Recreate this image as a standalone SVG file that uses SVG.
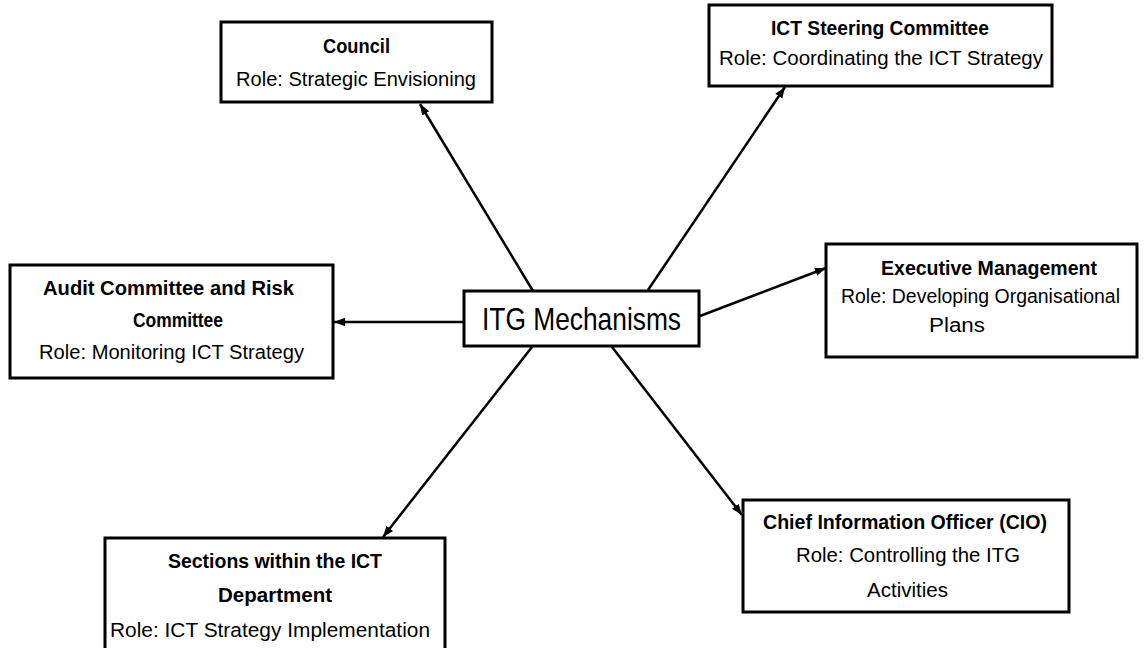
<svg xmlns="http://www.w3.org/2000/svg" width="1145" height="648" viewBox="0 0 1145 648">
<style>
  .box { fill: #ffffff; stroke: #000000; stroke-width: 3; }
  .t { font-family: "Liberation Sans", Arial, sans-serif; font-size: 20px; fill: #000000; }
  .b { font-weight: bold; }
  .c { font-family: "Liberation Sans", Arial, sans-serif; font-size: 32px; fill: #000000; }
  .arrow { fill: none; stroke: #000000; stroke-width: 2.5; marker-end: url(#ah); }
</style>
<defs>
  <marker id="ah" markerUnits="userSpaceOnUse" markerWidth="12" markerHeight="10" refX="11" refY="5" orient="auto">
    <path d="M0,0.8 L11,5 L0,9.2 Z" fill="#000000"/>
  </marker>
</defs>
<rect width="1145" height="648" fill="#ffffff"/>

<g id="connectors">
  <path class="arrow" d="M533,291 L420,104"/>
  <path class="arrow" d="M648,290 L785,87"/>
  <path class="arrow" d="M464,322 L334,322"/>
  <path class="arrow" d="M700,316 L826,268"/>
  <path class="arrow" d="M532,347 L383,537"/>
  <path class="arrow" d="M612,347 L742,515"/>
</g>

<g id="center">
  <rect class="box" x="464" y="291" width="235" height="55"/>
  <text class="c" x="581.5" y="330" text-anchor="middle" textLength="199" lengthAdjust="spacingAndGlyphs">ITG Mechanisms</text>
</g>

<g id="council">
  <rect class="box" x="221" y="22" width="271" height="80"/>
  <text class="t b" x="356.5" y="53" text-anchor="middle" textLength="67" lengthAdjust="spacingAndGlyphs">Council</text>
  <text class="t" x="356" y="86" text-anchor="middle" textLength="240" lengthAdjust="spacingAndGlyphs">Role: Strategic Envisioning</text>
</g>

<g id="steering">
  <rect class="box" x="709" y="5" width="343" height="81"/>
  <text class="t b" x="880" y="35" text-anchor="middle" textLength="218" lengthAdjust="spacingAndGlyphs">ICT Steering Committee</text>
  <text class="t" x="881" y="65" text-anchor="middle" textLength="324" lengthAdjust="spacingAndGlyphs">Role: Coordinating the ICT Strategy</text>
</g>

<g id="audit">
  <rect class="box" x="10" y="265" width="323" height="113"/>
  <text class="t b" x="168.5" y="295" text-anchor="middle" textLength="251" lengthAdjust="spacingAndGlyphs">Audit Committee and Risk</text>
  <text class="t b" x="178" y="327" text-anchor="middle" textLength="90" lengthAdjust="spacingAndGlyphs">Committee</text>
  <text class="t" x="171.5" y="359" text-anchor="middle" textLength="265" lengthAdjust="spacingAndGlyphs">Role: Monitoring ICT Strategy</text>
</g>

<g id="executive">
  <rect class="box" x="826" y="244" width="311" height="113"/>
  <text class="t b" x="989" y="275" text-anchor="middle" textLength="216" lengthAdjust="spacingAndGlyphs">Executive Management</text>
  <text class="t" x="980.5" y="303" text-anchor="middle" textLength="279" lengthAdjust="spacingAndGlyphs">Role: Developing Organisational</text>
  <text class="t" x="957" y="332" text-anchor="middle" textLength="56" lengthAdjust="spacingAndGlyphs">Plans</text>
</g>

<g id="sections">
  <rect class="box" x="105" y="538" width="340" height="115"/>
  <text class="t b" x="275" y="568" text-anchor="middle" textLength="214" lengthAdjust="spacingAndGlyphs">Sections within the ICT</text>
  <text class="t b" x="275" y="602" text-anchor="middle" textLength="114" lengthAdjust="spacingAndGlyphs">Department</text>
  <text class="t" x="270" y="637" text-anchor="middle" textLength="320" lengthAdjust="spacingAndGlyphs">Role: ICT Strategy Implementation</text>
</g>

<g id="cio">
  <rect class="box" x="743" y="500" width="326" height="112"/>
  <text class="t b" x="905" y="529" text-anchor="middle" textLength="284" lengthAdjust="spacingAndGlyphs">Chief Information Officer (CIO)</text>
  <text class="t" x="908" y="562" text-anchor="middle" textLength="224" lengthAdjust="spacingAndGlyphs">Role: Controlling the ITG</text>
  <text class="t" x="907.5" y="597" text-anchor="middle" textLength="81" lengthAdjust="spacingAndGlyphs">Activities</text>
</g>
</svg>
